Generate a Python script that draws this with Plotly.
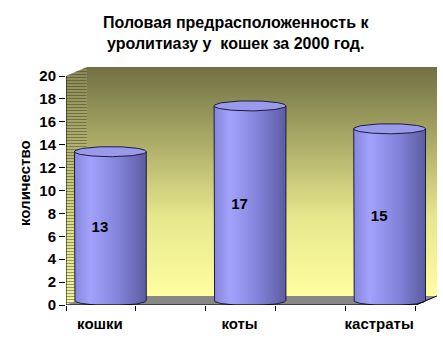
import numpy as np
import plotly.graph_objects as go

# ---- data ----
categories = ["кошки", "коты", "кастраты"]
values = [13, 17, 15]
y_ticks = list(range(0, 21, 2))
title_text = "Половая предрасположенность к<br>уролитиазу у  кошек за 2000 год."
y_title = "количество"

# ---- geometry of the pseudo-3D scene (in data units) ----
W, H = 443, 347
ML, MR, MT, MB = 66, 6, 67, 42
PW, PH = W - ML - MR, H - MT - MB
px_per_cat = 140.0
x0 = -(100 - ML) / px_per_cat          # left front edge
x1 = x0 + 351 / px_per_cat             # right front edge
dx = 21 / px_per_cat                   # depth shift x
ymax = 20
ppu = (305 - 77) / 20.0
dy = 9 / ppu                           # depth shift y
rx = 36 / px_per_cat
ry = 5 / ppu


def pfx(px):
    return (px - ML) / PW


def pfy(py):
    return (H - MB - py) / PH


FONT = "Liberation Sans"
fig = go.Figure()

# back wall with vertical gradient
fig.add_trace(go.Scatter(
    x=[x0 + dx, x1 + dx, x1 + dx, x0 + dx, x0 + dx],
    y=[dy, dy, ymax + dy, ymax + dy, dy],
    mode="lines", line=dict(width=0), fill="toself",
    fillgradient=dict(type="vertical",
                      colorscale=[[0, "#ffffa0"], [0.35, "#e6e68c"], [1, "#707044"]]),
    hoverinfo="skip", showlegend=False))

# side wall (gradient + stripes)
sx = [x0, x0 + dx, x0 + dx, x0, x0]
sy = [0, dy, ymax + dy, ymax, 0]
fig.add_trace(go.Scatter(
    x=sx, y=sy, mode="lines", line=dict(width=0), fill="toself",
    fillgradient=dict(type="vertical",
                      colorscale=[[0, "#ffffa0"], [0.35, "#e6e68c"], [1, "#8a8a56"]]),
    hoverinfo="skip", showlegend=False))
fig.add_trace(go.Scatter(
    x=sx, y=sy, mode="lines", line=dict(width=0), fill="toself",
    fillcolor="rgba(0,0,0,0)",
    fillpattern=dict(shape="-", fgcolor="#3a3a26", bgcolor="rgba(0,0,0,0)",
                     size=3, solidity=0.4),
    hoverinfo="skip", showlegend=False))

# floor
fig.add_trace(go.Scatter(
    x=[x0, x1, x1 + dx, x0 + dx, x0], y=[0, 0, dy, dy, 0],
    mode="lines", line=dict(width=0), fill="toself", fillcolor="#878787",
    hoverinfo="skip", showlegend=False))

# cylinders
t = np.linspace(0, np.pi, 40)
tt = np.linspace(0, 2 * np.pi, 80)
for i, v in enumerate(values):
    cx = i + dx / 2
    base = dy / 2
    top = v + dy / 2
    bx = np.concatenate([[cx - rx], cx - rx * np.cos(t), [cx + rx, cx - rx]])
    by = np.concatenate([[top], base - ry * np.sin(t), [top, top]])
    fig.add_trace(go.Scatter(
        x=bx, y=by, mode="lines", line=dict(color="#1c1c3c", width=1),
        fill="toself",
        fillgradient=dict(type="horizontal",
                          colorscale=[[0, "#8686dc"], [0.22, "#a2a2fc"],
                                      [0.6, "#8484dc"], [1, "#5c5ca2"]]),
        hoverinfo="skip", showlegend=False))
    fig.add_trace(go.Scatter(
        x=cx + rx * np.cos(tt), y=top + ry * np.sin(tt),
        mode="lines", line=dict(color="#1c1c3c", width=1),
        fill="toself", fillcolor="#9a9aec",
        hoverinfo="skip", showlegend=False))

# value labels
fig.add_trace(go.Scatter(
    x=list(range(len(values))), y=[v / 2 + 0.2 for v in values],
    mode="text", text=[str(v) for v in values],
    textfont=dict(family=FONT, size=15, color="#000000", weight=700),
    hoverinfo="skip", showlegend=False))

# axis lines
fig.add_trace(go.Scatter(
    x=[x0, x0, None, x0, x1, x1 + dx], y=[ymax, 0, None, 0, 0, dy],
    mode="lines", line=dict(color="#000000", width=1),
    hoverinfo="skip", showlegend=False))

fig.update_layout(
    width=W, height=H,
    margin=dict(l=ML, r=MR, t=MT, b=MB),
    paper_bgcolor="white", plot_bgcolor="white",
    font=dict(family=FONT, size=15, color="#000000"),
    xaxis=dict(range=[x0, x1 + dx], tickvals=list(range(len(categories))),
               ticktext=categories, ticks="", showgrid=False, zeroline=False,
               showline=False, tickfont=dict(family=FONT, size=15, weight=700),
               ticklabelstandoff=8,
               minor=dict(ticks="outside", tick0=x0, dtick=0.5, ticklen=5,
                          tickcolor="#000000", showgrid=False),
               fixedrange=True),
    yaxis=dict(range=[0, ymax + dy], tickvals=y_ticks, ticks="outside",
               ticklen=6, tickcolor="#000000", showgrid=False, zeroline=False,
               showline=False, tickfont=dict(family=FONT, size=15, weight=700),
               fixedrange=True),
    annotations=[
        dict(text=title_text, x=pfx(236), y=pfy(33), xref="paper", yref="paper",
             xanchor="center", yanchor="middle", showarrow=False,
             font=dict(family=FONT, size=16, weight=700)),
        dict(text=y_title, x=pfx(24), y=pfy(183), xref="paper", yref="paper",
             xanchor="center", yanchor="middle", textangle=-90, showarrow=False,
             font=dict(family=FONT, size=15, weight=700)),
    ],
)

fig.write_html("out.html")
